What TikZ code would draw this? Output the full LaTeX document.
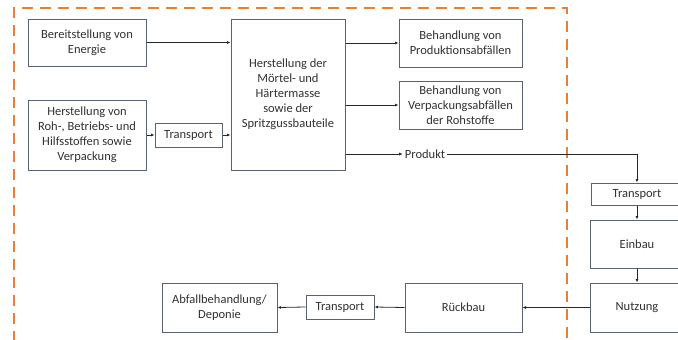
\documentclass[tikz,border=0pt]{standalone}
\usepackage{fontspec}
\setmainfont{Carlito}
\usetikzlibrary{arrows.meta}
\definecolor{boxline}{RGB}{88,98,115}
\definecolor{txt}{RGB}{50,50,50}
\definecolor{orangeline}{RGB}{237,125,49}
\definecolor{arrline}{RGB}{40,40,40}
\begin{document}
\begin{tikzpicture}[x=1pt,y=-1pt,
  box/.style={draw=boxline, line width=1pt, fill=white, align=center, inner sep=1pt,
    text=txt, font=\fontsize{12.5}{15}\selectfont},
  lbl/.style={text=txt, font=\fontsize{12.5}{15}\selectfont, inner sep=2pt},
  conn/.style={draw=arrline, line width=0.8pt, -{Latex[length=3.5pt,width=3pt]}}]
\useasboundingbox (0,0) rectangle (678,340);
\clip (0,0) rectangle (678,340);
\fill[white] (0,0) rectangle (678,340);
% system boundary
\draw[orangeline, line width=1.6pt, dash pattern=on 11pt off 7pt] (14,360) -- (14,8) -- (567,8) -- (567,360);
% nodes
\node[box, minimum width=118, minimum height=47] (energie) at (87,42.5) {Bereitstellung von\\Energie};
\node[box, minimum width=118, minimum height=70] (roh) at (87,135) {Herstellung von\\Roh-, Betriebs- und\\Hilfsstoffen sowie\\Verpackung};
\node[box, minimum width=67, minimum height=24] (tra1) at (188.5,135) {Transport};
\node[box, minimum width=114, minimum height=151] (main) at (288,94.5) {Herstellung der\\Mörtel- und\\Härtermasse\\sowie der\\Spritzgussbauteile};
\node[box, minimum width=123, minimum height=48] (prod) at (460.5,43) {Behandlung von\\Produktionsabfällen};
\node[box, minimum width=123, minimum height=48] (verp) at (460.5,105) {Behandlung von\\Verpackungsabfällen\\der Rohstoffe};
\node[lbl] (produkt) at (425,154) {Produkt};
\node[box, minimum width=92, minimum height=22] (tra2) at (637,194) {Transport};
\node[box, minimum width=94, minimum height=48] (einbau) at (637,244) {Einbau};
\node[box, minimum width=94, minimum height=49] (nutzung) at (637,307.5) {Nutzung};
\node[box, minimum width=117, minimum height=49] (rueck) at (463.5,307.5) {Rückbau};
\node[box, minimum width=68, minimum height=24] (tra3) at (340,307) {Transport};
\node[box, minimum width=115, minimum height=49] (abfall) at (219.5,307.5) {Abfallbehandlung/\\Deponie};
% connectors
\draw[conn] (energie.east) -- (energie.east -| main.west);
\draw[conn] (roh.east) -- (tra1.west);
\draw[conn] (tra1.east) -- (tra1.east -| main.west);
\draw[conn] (main.east |- prod.west) -- (prod.west);
\draw[conn] (main.east |- verp.west) -- (verp.west);
\draw[conn] (main.east |- produkt.west) -- (produkt.west);
\draw[conn] (produkt.east) -| (tra2.north);
\draw[conn] (tra2.south) -- (einbau.north);
\draw[conn] (einbau.south) -- (nutzung.north);
\draw[conn] (nutzung.west) -- (rueck.east);
\draw[conn] (rueck.west) -- (tra3.east);
\draw[conn] (tra3.west) -- (abfall.east);
\end{tikzpicture}
\end{document}
